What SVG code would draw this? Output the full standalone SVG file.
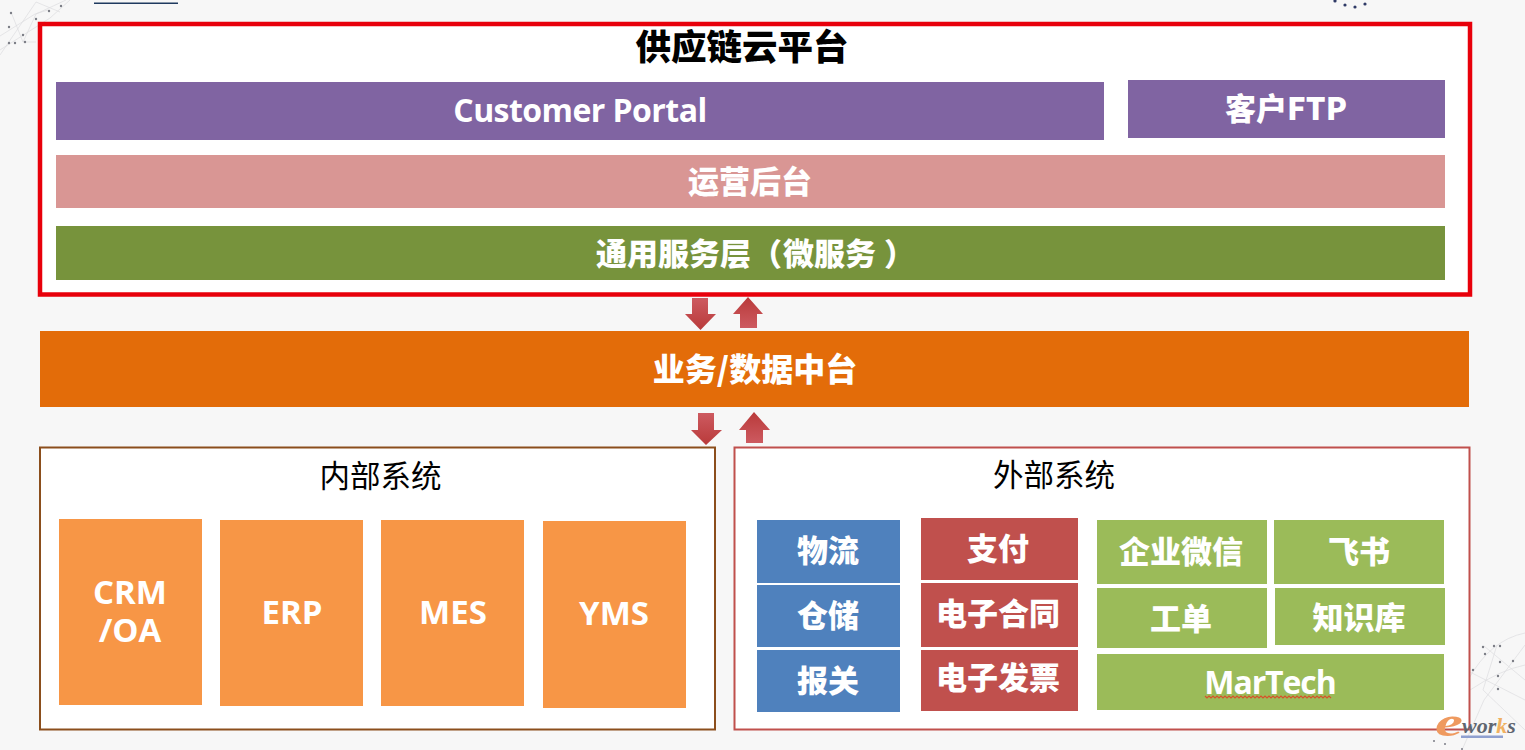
<svg xmlns="http://www.w3.org/2000/svg" width="1525" height="750" viewBox="0 0 1525 750">
<style>
text{font-family:"Open Sans","Noto Sans CJK SC",sans-serif;text-anchor:middle}
.w{fill:#fff;font-weight:700}
.c{font-family:"Noto Sans CJK SC",sans-serif;font-weight:900;fill:#fff;font-size:31px}
.s32{font-size:33px}
.pu{fill:#8064a2}.or{fill:#f79646}.bl{fill:#4f81bd}.re{fill:#c0504d}.gr{fill:#9bbb59}
.net{fill:none;stroke:#dddde0;stroke-width:.7}
.dot{fill:#7b7d86}
</style>
<defs>
<linearGradient id="ar" x1="0" y1="0" x2="0" y2="1"><stop offset="0" stop-color="#cd5a60"/><stop offset="1" stop-color="#b93a3a"/></linearGradient>
<linearGradient id="au" x1="0" y1="0" x2="0" y2="1"><stop offset="0" stop-color="#b93a3a"/><stop offset="1" stop-color="#cd5a60"/></linearGradient>
</defs>
<rect width="1525" height="750" fill="#f7f7f7"/>
<g id="background-decoration">
<path class="net" d="M0 55L36 2L60 12M0 50L50 18L70 0M0 36L35 14L48 10M11 12L23 42L36 42M23 42L36 14L66 0"/>
<path class="net" d="M1525 633Q1490 640 1468 680M1525 645L1484 700L1462 750M1484 646L1525 680M1470 672L1525 700M1497 645L1483 690L1525 730M1470 690Q1500 670 1525 665"/>
<g class="dot"><circle cx="11" cy="13" r="1.200"/><circle cx="9" cy="27" r="1.200"/><circle cx="23" cy="35" r="1.200"/><circle cx="9" cy="43" r="1.200"/><circle cx="15" cy="43" r="1.200"/><circle cx="25" cy="42" r="1.200"/><circle cx="49" cy="11" r="1.200"/><circle cx="36" cy="19" r="1.200"/><circle cx="61" cy="6" r="1.200"/>
<circle cx="1483" cy="647" r="1.200"/><circle cx="1485" cy="654" r="1.200"/><circle cx="1494" cy="646" r="1.200"/><circle cx="1500" cy="646" r="1.200"/><circle cx="1500" cy="662" r="1.200"/><circle cx="1513" cy="661" r="1.200"/><circle cx="1473" cy="670" r="1.200"/><circle cx="1498" cy="676" r="1.200"/><circle cx="1498" cy="689" r="1.200"/><circle cx="1434" cy="741" r="1"/><circle cx="1445" cy="744" r="1"/><circle cx="1462" cy="749" r="1"/></g>
<g fill="#2f3a66"><circle cx="1335" cy="1" r="1.600"/><circle cx="1345" cy="5" r="1.600"/><circle cx="1355" cy="7" r="1.600"/><circle cx="1365" cy="4" r="1.600"/></g>
<rect x="94" y="2.500" width="84" height="1.500" fill="#1f3a5f"/>
</g>
<g id="connectors">
<path fill="url(#ar)" d="M692 298H708V314H716L700.500 330L685 314H692Z"/>
<path fill="url(#au)" d="M748 297L763 314H757V328H740V314H733Z"/>
<path fill="url(#ar)" d="M698 413H714V430H722L706 445L691 430H698Z"/>
<path fill="url(#au)" d="M754 412L770 430H763V443H746V430H739Z"/>
</g>
<g id="cloud-platform">
<rect x="40" y="24" width="1430" height="270.500" fill="#fff" stroke="#e8000b" stroke-width="4.500"/>
<text x="742" y="60" font-size="35.500" style="font-family:'Noto Sans CJK SC',sans-serif;font-weight:900" fill="#000">供应链云平台</text>
</g>
<g id="customer-portal"><rect class="pu" x="56" y="82" width="1048" height="58"/><text class="w" font-size="32" letter-spacing="-.55" x="580" y="122">Customer Portal</text></g>
<g id="customer-ftp"><rect class="pu" x="1128" y="80" width="317" height="58"/><text class="c" x="1286" y="120">客户FTP</text></g>
<g id="ops-backend"><rect fill="#d99694" x="56" y="155" width="1389" height="53"/><text class="c" x="750" y="193">运营后台</text></g>
<g id="common-services"><rect fill="#77933c" x="56" y="226" width="1389" height="54"/><text class="c" style="text-anchor:start" x="596" y="265">通用服务层（<tspan dx="1">微服务</tspan><tspan dx="8">）</tspan></text></g>
<g id="data-platform"><rect fill="#e36c09" x="40" y="331" width="1429" height="76"/><text class="c" style="font-size:32px" x="755" y="381">业务/数据中台</text></g>
<g id="internal-systems"><rect x="40" y="447.500" width="675" height="282" fill="#fff" stroke="#8b4e1c" stroke-width="2"/><text x="380.500" y="487" font-size="30.500" fill="#000">内部系统</text></g>
<g id="external-systems"><rect x="734.500" y="447.500" width="735" height="282" fill="#fff" stroke="#c0504d" stroke-width="2"/><text x="1054" y="486" font-size="30.500" fill="#000">外部系统</text></g>
<g id="crm"><rect class="or" x="59" y="519" width="143" height="186"/><text class="w s32"><tspan x="130" y="604">CRM</tspan><tspan x="130" y="642">/OA</tspan></text></g>
<g id="erp"><rect class="or" x="220" y="520" width="143" height="186"/><text class="w s32" x="292" y="624">ERP</text></g>
<g id="mes"><rect class="or" x="381" y="520" width="143" height="186"/><text class="w s32" x="453" y="624">MES</text></g>
<g id="yms"><rect class="or" x="543" y="521" width="143" height="187"/><text class="w s32" x="614" y="625">YMS</text></g>
<g id="logistics"><rect class="bl" x="757" y="520" width="143" height="63"/><text class="c" x="828" y="562">物流</text></g>
<g id="warehouse"><rect class="bl" x="757" y="585" width="143" height="62"/><text class="c" x="828" y="627">仓储</text></g>
<g id="customs"><rect class="bl" x="757" y="650" width="143" height="62"/><text class="c" x="828" y="692">报关</text></g>
<g id="payment"><rect class="re" x="921" y="518" width="157" height="62"/><text class="c" x="998" y="560">支付</text></g>
<g id="contract"><rect class="re" x="921" y="583" width="157" height="64"/><text class="c" x="998" y="625">电子合同</text></g>
<g id="invoice"><rect class="re" x="921" y="650" width="157" height="61"/><text class="c" x="998" y="689">电子发票</text></g>
<g id="wecom"><rect class="gr" x="1097" y="520" width="170" height="64"/><text class="c" x="1181" y="563">企业微信</text></g>
<g id="feishu"><rect class="gr" x="1274" y="520" width="170" height="64"/><text class="c" x="1359" y="563">飞书</text></g>
<g id="ticket"><rect class="gr" x="1097" y="588" width="170" height="60"/><text class="c" x="1181" y="630">工单</text></g>
<g id="kb"><rect class="gr" x="1275" y="588" width="170" height="57"/><text class="c" x="1359" y="629">知识库</text></g>
<g id="martech"><rect class="gr" x="1097" y="654" width="347" height="56"/><text class="w" font-size="32" letter-spacing="-1.100" x="1270" y="694">MarTech</text>
<path fill="none" stroke="#d8502a" stroke-width="1.100" d="M1205 696l2 2l2-2l2 2l2-2l2 2l2-2l2 2l2-2l2 2l2-2l2 2l2-2l2 2l2-2l2 2l2-2l2 2l2-2l2 2l2-2l2 2l2-2l2 2l2-2l2 2l2-2l2 2l2-2l2 2l2-2l2 2l2-2l2 2l2-2l2 2l2-2l2 2l2-2l2 2l2-2l2 2l2-2l2 2l2-2l2 2l2-2l2 2l2-2l2 2l2-2l2 2l2-2l2 2l2-2l2 2l2-2l2 2l2-2l2 2l2-2l2 2l2-2l2 2"/></g>
<g id="eworks-logo">
<text transform="translate(1449 736) scale(1.500 1)" font-size="42" font-style="italic" font-weight="700" fill="#ef9a5f" style="font-family:'Liberation Serif',serif">e</text>
<text x="1489" y="733" font-size="22" font-style="italic" font-weight="700" fill="#5f6670" style="font-family:'Liberation Serif',serif">wor<tspan fill="#f0b060">k</tspan>s</text>
<rect x="1461" y="735.500" width="42" height="2.500" fill="#8fa0d0"/>
</g>
</svg>
